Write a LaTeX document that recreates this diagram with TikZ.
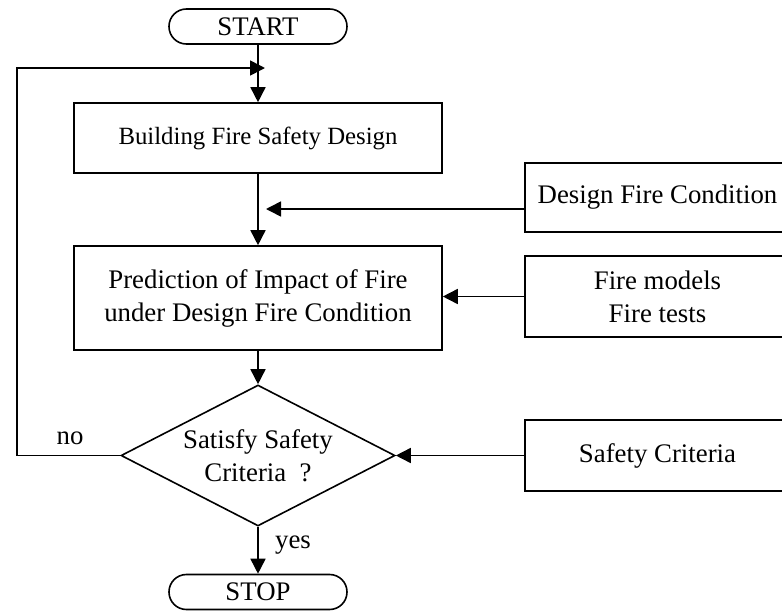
\documentclass[tikz,border=0pt]{standalone}
\usepackage{fontspec}
\setmainfont{Liberation Serif}
\usetikzlibrary{arrows.meta,shapes.geometric}
\begin{document}
\begin{tikzpicture}[x=0.5pt,y=-0.5pt,
  every node/.style={font=\fontsize{13.4}{16.5}\selectfont},
  box/.style={draw,line width=0.8pt,inner sep=0pt,align=center},
  term/.style={draw,line width=0.8pt,rounded corners=8.7pt,minimum width=89pt,minimum height=17.5pt,inner sep=0pt},
  decision/.style={draw,line width=0.8pt,shape=diamond,inner sep=0pt,minimum width=137pt,minimum height=70.5pt},
  arr/.style={line width=0.8pt,-{Triangle[width=7.5pt,length=7.5pt]}}]
\useasboundingbox (0,0) rectangle (782,611);
\node[term] (start) at (258,26.5) {START};
\node[box,minimum width=184pt,minimum height=35pt,font=\fontsize{12.4}{15}\selectfont] (bld) at (258,138) {Building Fire Safety Design};
\node[box,minimum width=184pt,minimum height=52pt] (pred) at (258,298) {Prediction of Impact of Fire\\under Design Fire Condition};
\node[decision,label={[align=center]center:Satisfy Safety\\Criteria\ \ ?}] (dec) at (258,455.5) {};
\node[term] (stop) at (258,592) {STOP};
\node[box,minimum width=132.5pt,minimum height=34.5pt] (des) at (657.5,197.5) {Design Fire Condition};
\node[box,minimum width=132.5pt,minimum height=40.5pt] (fire) at (657.5,296.5) {Fire models\\Fire tests};
\node[box,minimum width=132.5pt,minimum height=35.5pt] (saf) at (657.5,455.5) {Safety Criteria};
\node (no) at (70,438) {no};
\node (yes) at (293,545) {yes};
\coordinate (jn) at (265,68);
\coordinate (c1) at (17,455.5);
\coordinate (c2) at (17,68);
\coordinate (dj) at (266,209);
\draw[arr] (start) -- (bld);
\draw[arr] (dec.west) -- (c1) -- (c2) -- (jn);
\draw[arr] (des.west |- dj) -- (dj);
\draw[arr] (fire.west) -- (fire.west -| pred.east);
\draw[arr] (bld) -- (pred);
\draw[arr] (pred) -- (dec);
\draw[arr] (saf.west) -- (dec.east);
\draw[arr] (dec) -- (stop);
\end{tikzpicture}
\end{document}
